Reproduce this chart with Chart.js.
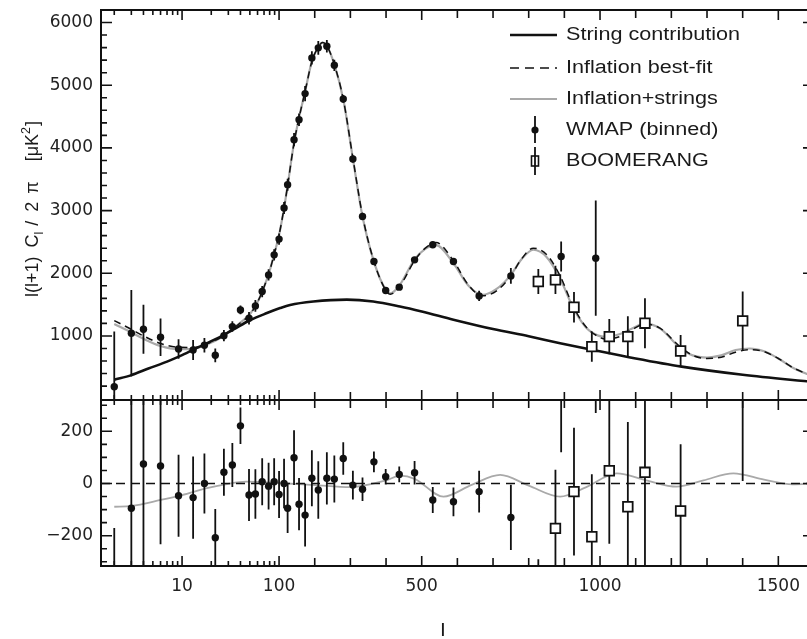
<!DOCTYPE html>
<html>
<head>
<meta charset="utf-8">
<title>CMB temperature power spectrum: inflation and cosmic strings</title>
<script src="https://cdn.jsdelivr.net/npm/chart.js@4.4.1/dist/chart.umd.min.js"></script>
<style>
  html, body { margin: 0; padding: 0; background: #fff; overflow: hidden; }
  #wrap { position: relative; width: 807px; height: 639px; overflow: hidden; background: #fff; }
  #top { position: absolute; left: 0; top: 0; }
  #bot { position: absolute; left: 0; top: 399px; }
</style>
</head>
<body>
<div id="wrap">
  <canvas id="top" width="822" height="402"></canvas>
  <canvas id="bot" width="822" height="240"></canvas>
</div>
<script>
// ---------------------------------------------------------------------------
// Multipole axis: logarithmic up to l = 100, linear beyond
// ---------------------------------------------------------------------------
const X_MIN = 1.46;
const X_MAX = 1600;
const X_LABELS = [10, 100, 500, 1000, 1500];
const X_TICKS_HUNDREDS = [200, 300, 400, 600, 700, 800, 900, 1100, 1200, 1300, 1400];
const X_TICKS_MINOR = [2, 3, 4, 5, 6, 7, 8, 9, 20, 30, 40, 50, 60, 70, 80, 90];

// ---------------------------------------------------------------------------
// Upper panel: l(l+1) C_l / 2pi  [muK^2]
// ---------------------------------------------------------------------------
const TOP_Y_LABELS = [1000, 2000, 3000, 4000, 5000, 6000];

// Cosmic string contribution
const STRING_L = [2, 3, 4.5, 7, 10, 15, 23, 34, 50, 75, 103, 131, 196, 290, 364, 439, 500, 589, 700, 800, 888, 977, 1100, 1229, 1400, 1600];
const STRING_V = [300, 375, 480, 590, 695, 825, 960, 1105, 1250, 1365, 1445, 1495, 1550, 1580, 1550, 1470, 1390, 1260, 1110, 995, 885, 780, 640, 510, 380, 265];

// Inflation best-fit and inflation + strings, sampled at the same multipoles
const FIT_L = [2, 3, 4, 6, 9, 13, 18, 25, 33, 40, 50, 60, 70, 80, 90, 100, 114, 124, 142, 156,
               173, 192, 210, 222, 234, 255, 280, 307, 334, 366, 399, 412, 437, 480, 510, 540, 589, 630, 670, 710,
               750, 780, 813, 850, 888, 925, 960, 995, 1015, 1056, 1090, 1126, 1168, 1224, 1260, 1300, 1340, 1380, 1420, 1460,
               1500, 1542, 1600];
const FIT_V = [1245, 1105, 1000, 880, 820, 815, 875, 975, 1110, 1210, 1340, 1540, 1780, 2040, 2330, 2610, 3040, 3400, 4080, 4480,
               4900, 5380, 5610, 5680, 5630, 5330, 4780, 3840, 2920, 2190, 1730, 1665, 1780, 2200, 2400, 2490, 2200, 1820, 1640, 1720,
               1960, 2230, 2400, 2300, 1960, 1470, 1150, 990, 950, 990, 1100, 1190, 1125, 830, 690, 640, 660, 740, 780, 750,
               640, 490, 350];
const INFSTR_V = [1190, 1055, 955, 840, 790, 795, 862, 970, 1108, 1212, 1345, 1540, 1780, 2040, 2330, 2610, 3040, 3400, 4080, 4480,
                  4900, 5380, 5610, 5680, 5630, 5330, 4775, 3830, 2905, 2185, 1735, 1678, 1800, 2220, 2390, 2450, 2160, 1810, 1655, 1750,
                  1975, 2225, 2375, 2260, 1915, 1445, 1140, 1005, 985, 1030, 1120, 1195, 1120, 815, 690, 655, 690, 775, 800, 755,
                  640, 490, 350];

// WMAP binned band powers with 1-sigma errors
const WMAP_L = [2, 3, 4, 6, 9.2, 13, 17, 22, 27, 33, 40, 49, 57, 67, 78, 89, 100, 114, 124, 142,
                156, 173, 192, 210, 234, 255, 280, 307, 334, 366, 399, 437, 480, 531, 589, 661, 750, 891, 988];
const WMAP_V = [190, 1043, 1107, 979, 792, 776, 851, 691, 1005, 1149, 1415, 1282, 1479, 1708, 1974, 2294, 2545, 3040, 3412, 4131,
                4450, 4866, 5436, 5596, 5622, 5318, 4781, 3823, 2906, 2187, 1724, 1778, 2214, 2454, 2187, 1639, 1958, 2267, 2241];
const WMAP_E = [880, 690, 390, 300, 157, 158, 115, 110, 90, 84, 70, 100, 95, 90, 90, 90, 90, 95, 95, 105,
                100, 120, 107, 110, 100, 90, 62, 55, 45, 40, 30, 30, 45, 50, 55, 80, 125, 240, 920];

// BOOMERANG band powers
const BOOM_L = [827, 875, 927, 977, 1026, 1078, 1126, 1226, 1400];
const BOOM_V = [1868, 1895, 1458, 829, 989, 989, 1203, 760, 1240];
const BOOM_E = [200, 225, 245, 240, 280, 325, 400, 255, 470];

// ---------------------------------------------------------------------------
// Lower panel: residuals with respect to the inflation best-fit
// ---------------------------------------------------------------------------
const BOT_Y_LABELS = [-200, 0, 200];
const WMAP_RES = [-1050, -95, 75, 67, -47, -54, 0, -208, 43, 71, 221, -44, -40, 7, -10, 7, -42, 0, -95, 99,
                  -79, -121, 20, -25, 20, 17, 96, -6, -22, 83, 26, 35, 41, -63, -70, -31, -130, 360, 1190];
const BOOM_RES = [-490, -172, -31, -204, 49, -89, 43, -105, 480];
const RES_CURVE_L = [2, 3, 6, 10, 18, 29, 46, 100, 200, 300, 400, 440, 480, 561, 640, 720, 800, 888, 960, 1047, 1130, 1215, 1290, 1374, 1460, 1540, 1600];
const RES_CURVE_V = [-89, -86, -63, -44, -18, -2, 7, 2, -6, -14, 12, 30, 18, -50, -5, 33, -8, -50, -15, 39, 12, -12, 12, 39, 15, -3, 0];

const LEGEND_LABELS = ['String contribution', 'Inflation best-fit', 'Inflation+strings', 'WMAP (binned)', 'BOOMERANG'];

// ---------------------------------------------------------------------------
// helpers
// ---------------------------------------------------------------------------
function range(a, b, step, skip) {
  const out = [];
  for (let v = a; v <= b + 1e-9; v += step) if (!skip || v % skip !== 0) out.push(v);
  return out;
}
const TOP_Y_MINOR = range(200, 6000, 200, 1000);
const BOT_Y_MINOR = range(-300, 300, 50, 200).filter(v => v !== 0);

const pts = (L, V) => L.map((l, i) => ({ x: l, y: V[i] }));
const errBars = (L, V, E) => L.flatMap((l, i) => [
  { x: l, y: V[i] - E[i] }, { x: l, y: V[i] + E[i] }, { x: l, y: null }
]);

// ---------------------------------------------------------------------------
// custom scale: log10 below l = 100, linear above (continuous join)
// ---------------------------------------------------------------------------
const PER_DECADE = 272;  // linear multipole units that one decade occupies
const lToT = l => l <= 100 ? PER_DECADE * Math.log10(l) : 2 * PER_DECADE + (l - 100);
const tToL = t => t <= 2 * PER_DECADE ? Math.pow(10, t / PER_DECADE) : 100 + (t - 2 * PER_DECADE);

class LogLinScale extends Chart.LinearScale {
  static id = 'loglin';
  static defaults = {};
  buildTicks() { return X_LABELS.map(v => ({ value: v })); }
  configure() {
    super.configure();
    this._t0 = lToT(this.min);
    this._t1 = lToT(this.max);
  }
  getPixelForValue(v) {
    if (v === null || v === undefined || !isFinite(v)) return NaN;
    return this.getPixelForDecimal((lToT(v) - this._t0) / (this._t1 - this._t0));
  }
  getValueForPixel(p) {
    return tToL(this._t0 + this.getDecimalForPixel(p) * (this._t1 - this._t0));
  }
}
Chart.register(LogLinScale);

Chart.defaults.font.family = '"DejaVu Sans", sans-serif';
Chart.defaults.font.size = 17;
Chart.defaults.color = '#222222';

const INK = '#111111';
const GREY = '#a9a9a9';
const TEXT_FONT = '"Liberation Sans", Arial, sans-serif';
const STRETCH = 1.2;

// frame with inward ticks on all four sides
function framePlugin(yMajor, yMinor) {
  return {
    id: 'panelFrame',
    afterDraw(chart) {
      const { ctx, chartArea: a } = chart;
      const x = chart.scales.x, y = chart.scales.y;
      ctx.save();
      ctx.strokeStyle = INK;
      ctx.lineWidth = 1.6;
      ctx.beginPath();
      const xt = (vals, len) => vals.forEach(v => {
        const p = x.getPixelForValue(v);
        if (p < a.left || p > a.right) return;
        ctx.moveTo(p, a.top); ctx.lineTo(p, a.top + len);
        ctx.moveTo(p, a.bottom); ctx.lineTo(p, a.bottom - len);
      });
      const yt = (vals, len) => vals.forEach(v => {
        const p = y.getPixelForValue(v);
        if (p < a.top || p > a.bottom) return;
        ctx.moveTo(a.left, p); ctx.lineTo(a.left + len, p);
        ctx.moveTo(a.right, p); ctx.lineTo(a.right - len, p);
      });
      xt(X_LABELS, 10);
      xt(X_TICKS_HUNDREDS, 8);
      xt(X_TICKS_MINOR, 5);
      yt(yMajor, 11);
      yt(yMinor, 6);
      ctx.stroke();
      ctx.lineWidth = 2;
      ctx.strokeRect(a.left, a.top, a.right - a.left, a.bottom - a.top);
      ctx.restore();
    }
  };
}

// legend block in the upper right corner
const legendPlugin = {
  id: 'cmbLegend',
  afterDraw(chart) {
    const ctx = chart.ctx;
    const x0 = 510, x1 = 557, mx = 535, tx = 566;
    const rows = [35, 68, 99, 130, 161];
    ctx.save();
    const seg = (yy, color, w, dash) => {
      ctx.beginPath(); ctx.strokeStyle = color; ctx.lineWidth = w; ctx.setLineDash(dash);
      ctx.moveTo(x0, yy); ctx.lineTo(x1, yy); ctx.stroke(); ctx.setLineDash([]);
    };
    seg(rows[0], INK, 2.4, []);
    seg(rows[1], INK, 1.6, [9, 6]);
    seg(rows[2], GREY, 1.8, []);
    ctx.strokeStyle = INK; ctx.lineWidth = 1.8;
    ctx.beginPath();
    ctx.moveTo(mx, rows[3] - 14); ctx.lineTo(mx, rows[3] + 13);
    ctx.moveTo(mx, rows[4] - 14); ctx.lineTo(mx, rows[4] + 14);
    ctx.stroke();
    ctx.fillStyle = INK;
    ctx.beginPath(); ctx.arc(mx, rows[3], 3.6, 0, Math.PI * 2); ctx.fill();
    ctx.lineWidth = 1.6;
    ctx.strokeRect(mx - 3.5, rows[4] - 5, 7, 10);
    ctx.fillStyle = '#1a1a1a';
    ctx.font = '18px ' + TEXT_FONT;
    ctx.textBaseline = 'middle';
    ctx.textAlign = 'left';
    LEGEND_LABELS.forEach((t, i) => {
      ctx.save(); ctx.translate(tx, rows[i]); ctx.scale(STRETCH, 1); ctx.fillText(t, 0, 0); ctx.restore();
    });
    ctx.restore();
  }
};

// vertical axis title with subscript and superscript
const yTitlePlugin = {
  id: 'yTitle',
  afterDraw(chart) {
    const ctx = chart.ctx;
    const big = '18px ' + TEXT_FONT, small = '12.5px ' + TEXT_FONT;
    const pieces = [
      ['l(l+1)', big, 0, 9], ['C', big, 0, 0], ['l', small, 5, 6], ['/', big, 0, 9],
      ['2', big, 0, 8], ['\u03c0', big, 0, 20], ['[\u03bcK', big, 0, 0], ['2', small, -8, 1], [']', big, 0, 0]
    ];
    ctx.save();
    ctx.translate(38, 297);
    ctx.rotate(-Math.PI / 2);
    ctx.fillStyle = '#1a1a1a';
    ctx.textBaseline = 'alphabetic';
    ctx.textAlign = 'left';
    let pos = 0;
    for (const [t, f, dy, gap] of pieces) {
      ctx.font = f;
      ctx.fillText(t, pos, dy);
      pos += ctx.measureText(t).width + gap;
    }
    ctx.restore();
  }
};

// horizontal axis title
const xTitlePlugin = {
  id: 'xTitle',
  afterDraw(chart) {
    const ctx = chart.ctx;
    ctx.save();
    ctx.fillStyle = '#1a1a1a';
    ctx.font = '18px ' + TEXT_FONT;
    ctx.textAlign = 'center';
    ctx.textBaseline = 'middle';
    ctx.translate(443, 232);
    ctx.scale(STRETCH, 1);
    ctx.fillText('l', 0, 0);
    ctx.restore();
  }
};

const fmt = v => v < 0 ? '\u2212' + Math.abs(v) : String(v);
const noPad = s => { s.paddingTop = 0; s.paddingBottom = 0; s.paddingLeft = 0; s.paddingRight = 0; };

const curve = (data, color, width, dash, order, label) => ({
  label, data, borderColor: color, borderWidth: width, borderDash: dash,
  pointRadius: 0, pointHoverRadius: 0, cubicInterpolationMode: 'monotone', fill: false, order
});
const bars = (data, label, order) => ({
  label, data, borderColor: INK, borderWidth: 1.8, pointRadius: 0, pointHoverRadius: 0, tension: 0,
  spanGaps: false, fill: false, order
});
const markers = (data, label, style, radius, fillColor, order) => ({
  label, data, showLine: false, pointStyle: style, pointRadius: radius, pointHoverRadius: radius,
  pointBackgroundColor: fillColor, pointBorderColor: INK,
  pointBorderWidth: style === 'rect' ? 1.8 : 0, order
});

// ---------------------------------------------------------------------------
// upper panel
// ---------------------------------------------------------------------------
new Chart(document.getElementById('top'), {
  type: 'line',
  data: {
    datasets: [
      curve(pts(FIT_L, INFSTR_V), GREY, 2.2, [], 7, LEGEND_LABELS[2]),
      curve(pts(FIT_L, FIT_V), INK, 1.5, [7, 5], 6, LEGEND_LABELS[1]),
      curve(pts(STRING_L, STRING_V), INK, 2.6, [], 5, LEGEND_LABELS[0]),
      bars(errBars(WMAP_L, WMAP_V, WMAP_E), 'WMAP errors', 4),
      bars(errBars(BOOM_L, BOOM_V, BOOM_E), 'BOOMERANG errors', 4),
      markers(pts(WMAP_L, WMAP_V), LEGEND_LABELS[3], 'circle', 3.7, INK, 2),
      markers(pts(BOOM_L, BOOM_V), LEGEND_LABELS[4], 'rect', 6.8, '#ffffff', 1)
    ]
  },
  options: {
    responsive: false, animation: false, devicePixelRatio: 1,
    layout: { autoPadding: false, padding: { top: 10, right: 8, bottom: 2, left: 0 } },
    plugins: { legend: { display: false }, tooltip: { enabled: false } },
    scales: {
      x: { type: 'loglin', min: X_MIN, max: X_MAX, display: false },
      y: {
        type: 'linear', min: -22, max: 6200,
        grid: { display: false, drawTicks: false }, border: { display: false },
        ticks: { padding: 8, autoSkip: false, callback: fmt },
        afterBuildTicks: s => { s.ticks = TOP_Y_LABELS.map(v => ({ value: v })); },
        afterFit: s => { s.width = 101; noPad(s); }
      }
    }
  },
  plugins: [framePlugin(TOP_Y_LABELS, TOP_Y_MINOR), legendPlugin, yTitlePlugin]
});

// ---------------------------------------------------------------------------
// lower panel (residuals)
// ---------------------------------------------------------------------------
new Chart(document.getElementById('bot'), {
  type: 'line',
  data: {
    datasets: [
      curve(pts(RES_CURVE_L, RES_CURVE_V), GREY, 1.8, [], 7, 'Inflation+strings residual'),
      curve(pts([X_MIN, X_MAX], [0, 0]), INK, 1.6, [9, 6], 6, 'Inflation best-fit'),
      bars(errBars(WMAP_L, WMAP_RES, WMAP_E), 'WMAP errors', 4),
      bars(errBars(BOOM_L, BOOM_RES, BOOM_E), 'BOOMERANG errors', 4),
      markers(pts(WMAP_L, WMAP_RES), 'WMAP residual', 'circle', 3.7, INK, 2),
      markers(pts(BOOM_L, BOOM_RES), 'BOOMERANG residual', 'rect', 6.8, '#ffffff', 1)
    ]
  },
  options: {
    responsive: false, animation: false, devicePixelRatio: 1,
    layout: { autoPadding: false, padding: { top: 1, right: 8, bottom: 0, left: 0 } },
    plugins: { legend: { display: false }, tooltip: { enabled: false } },
    scales: {
      x: {
        type: 'loglin', min: X_MIN, max: X_MAX,
        grid: { display: false, drawTicks: false }, border: { display: false },
        ticks: { padding: 10, autoSkip: false, maxRotation: 0, callback: v => String(v) },
        afterFit: s => { s.height = 73; noPad(s); }
      },
      y: {
        type: 'linear', min: -316, max: 320,
        grid: { display: false, drawTicks: false }, border: { display: false },
        ticks: { padding: 8, autoSkip: false, callback: fmt },
        afterBuildTicks: s => { s.ticks = BOT_Y_LABELS.map(v => ({ value: v })); },
        afterFit: s => { s.width = 101; noPad(s); }
      }
    }
  },
  plugins: [framePlugin(BOT_Y_LABELS, BOT_Y_MINOR), xTitlePlugin]
});
</script>
</body>
</html>
